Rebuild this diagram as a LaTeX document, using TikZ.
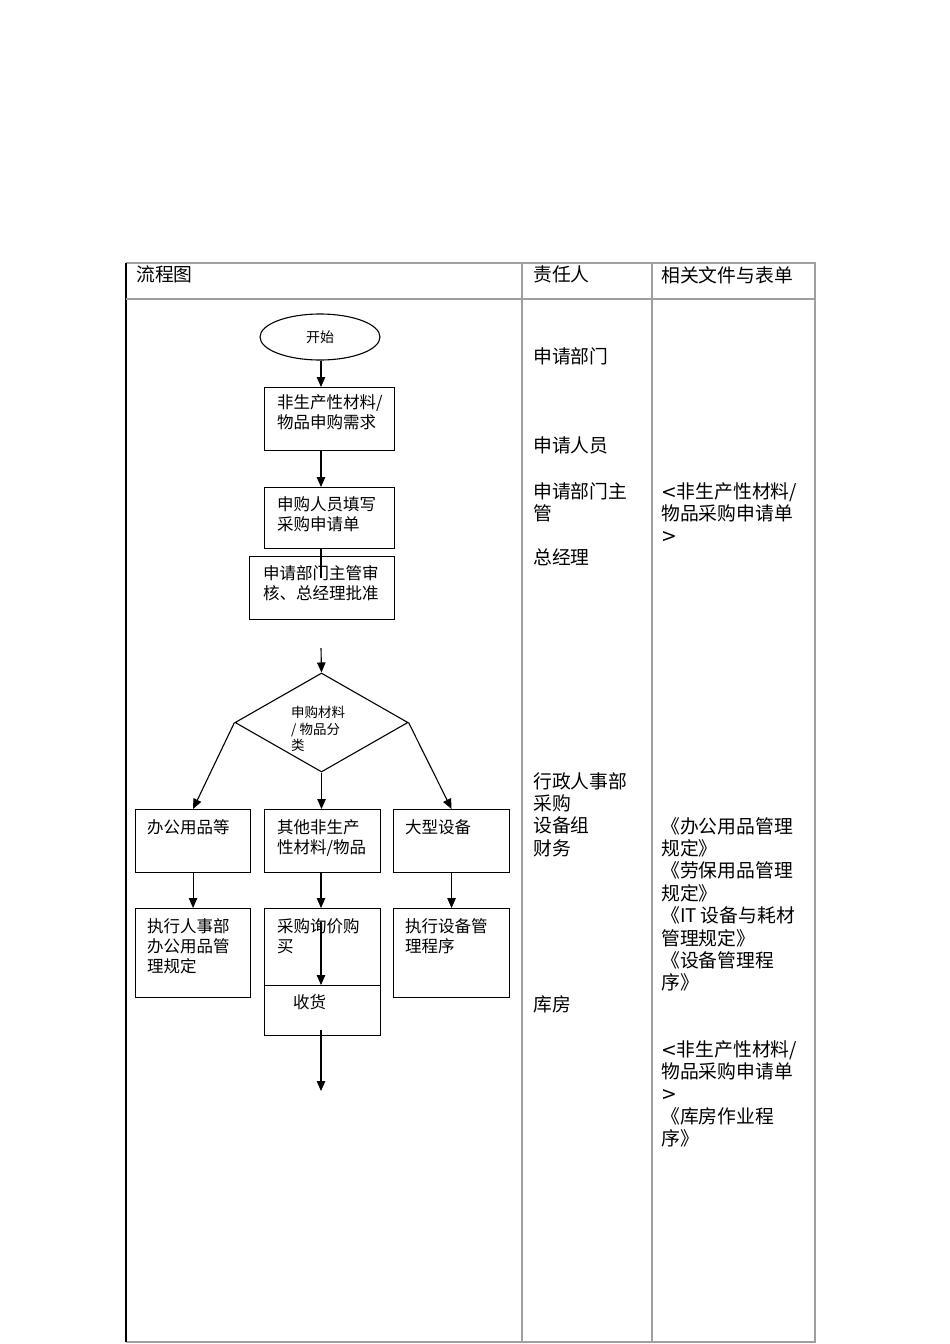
\documentclass[tikz,border=0pt]{standalone}
\usepackage{fontspec}
\setmainfont{Noto Sans CJK SC}
\newfontfamily\djv{DejaVu Sans}
\newcommand{\lt}{{\djv <}}
\newcommand{\gtr}{{\djv >}}
\usetikzlibrary{arrows.meta,shapes.geometric}
\begin{document}
\begin{tikzpicture}[x=1pt,y=-1pt,
  tbl/.style={draw=gray!75,line width=1.3pt},
  box/.style={draw=black,line width=1.1pt,inner sep=0pt,anchor=north west},
  arr/.style={draw=black,line width=1.1pt,-{Triangle[length=10pt,width=8.5pt]}},
  ln/.style={draw=black,line width=1.1pt},
  txt/.style={inner sep=0pt,anchor=north west,align=left,font=\fontsize{18.8}{22.4}\selectfont},
  btxt/.style={inner sep=0pt,anchor=north west,align=left,font=\fontsize{16.5}{20}\selectfont},
  dtxt/.style={inner sep=0pt,anchor=north west,align=left,font=\fontsize{13.5}{16.5}\selectfont}]
\useasboundingbox (0,0) rectangle (950,1344);
\fill[white] (0,0) rectangle (950,1344);
% table
\draw[tbl] (126,263) -- (815,263) -- (815,1342) -- (126,1342);
\draw[draw=black,line width=1.1pt] (126,263) -- (126,1342);
\draw[tbl] (522,263) -- (522,1342);
\draw[tbl] (652,263) -- (652,1342);
\draw[tbl] (126,299) -- (815,299);
% headers
\node[txt] (h1) at (136,266) {流程图};
\node[txt] (h2) at (533,266) {责任人};
\node[txt] (h3) at (661,266) {相关文件与表单};
% column 2
\node[txt] (r1) at (533,347) {申请部门};
\node[txt] (r2) at (533,437) {申请人员};
\node[txt] (r3) at (533,482) {申请部门主\\管};
\node[txt] (r4) at (533,549) {总经理};
\node[txt] (r5) at (533,772) {行政人事部\\采购\\设备组\\财务};
\node[txt] (r6) at (533,995) {库房};
% column 3
\node[txt] (f1) at (661,482) {\lt 非生产性材料/\\物品采购申请单\\\gtr};
\node[txt] (f2) at (661,817) {《办公用品管理\\规定》\\《劳保用品管理\\规定》\\《IT 设备与耗材\\管理规定》\\《设备管理程\\序》};
\node[txt] (f3) at (661,1040) {\lt 非生产性材料/\\物品采购申请单\\\gtr\\《库房作业程\\序》};
% flowchart
\node[ellipse,draw=black,line width=1.1pt,minimum width=120pt,minimum height=46pt,inner sep=0pt,font=\fontsize{14}{16}\selectfont] (start) at (320,337) {开始};
\node[box,minimum width=130pt,minimum height=63pt] (b1) at (264,387) {};
\node[btxt] (t1) at (277,394) {非生产性材料/\\物品申购需求};
\node[box,minimum width=130pt,minimum height=61pt] (b2) at (264,487) {};
\node[btxt] (t2) at (277,496) {申购人员填写\\采购申请单};
\node[box,minimum width=145pt,minimum height=63pt] (b3) at (249,556) {};
\node[btxt] (t3) at (263,565) {申请部门主管审\\核、总经理批准};
\node[diamond,draw=black,line width=1.1pt,minimum width=173pt,minimum height=99pt,inner sep=0pt] (d) at (321.5,722.5) {};
\node[dtxt] (td) at (291,706) {申购材料\\/ 物品分\\类};
\node[box,minimum width=115pt,minimum height=63pt] (bA) at (135,809) {};
\node[btxt] (tA) at (147,819) {办公用品等};
\node[box,minimum width=116pt,minimum height=63pt] (bB) at (264,809) {};
\node[btxt] (tB) at (277,819) {其他非生产\\性材料/物品};
\node[box,minimum width=116pt,minimum height=63pt] (bC) at (393,809) {};
\node[btxt] (tC) at (405,819) {大型设备};
\node[box,minimum width=115pt,minimum height=89pt] (bD) at (135,908) {};
\node[btxt] (tD) at (147,918) {执行人事部\\办公用品管\\理规定};
\node[box,minimum width=116pt,minimum height=77pt] (bE) at (264,908) {};
\node[btxt] (tE) at (277,918) {采购询价购\\买};
\node[box,minimum width=116pt,minimum height=50pt] (bF) at (264,985) {};
\node[btxt] (tF) at (293,994) {收货};
\node[box,minimum width=116pt,minimum height=89pt] (bG) at (393,908) {};
\node[btxt] (tG) at (405,918) {执行设备管\\理程序};
% connectors
\coordinate (c0) at (321,578);
\coordinate (c1) at (321,648);
\coordinate (c2) at (321,922);
\coordinate (c3) at (321,1030);
\coordinate (c4) at (321,1091);
\draw[arr] (start.south -| c0) -- (b1.north -| c0);
\draw[arr] (b1.south -| c0) -- (b2.north -| c0);
\draw[ln] (b2.south -| c0) -- (c0);
\draw[arr] (c1) -- (d.north);
\draw[arr] (d.west) -- (bA.north);
\draw[arr] (d.south) -- (d.south |- bB.north);
\draw[arr] (d.east) -- (bC.north);
\draw[arr] (bA.south) -- (bD.north);
\draw[arr] (bB.south -| c0) -- (bE.north -| c0);
\draw[arr] (bC.south) -- (bG.north);
\draw[arr] (c2) -- (bF.north -| c2);
\draw[arr] (c3) -- (c4);
\end{tikzpicture}
\end{document}
